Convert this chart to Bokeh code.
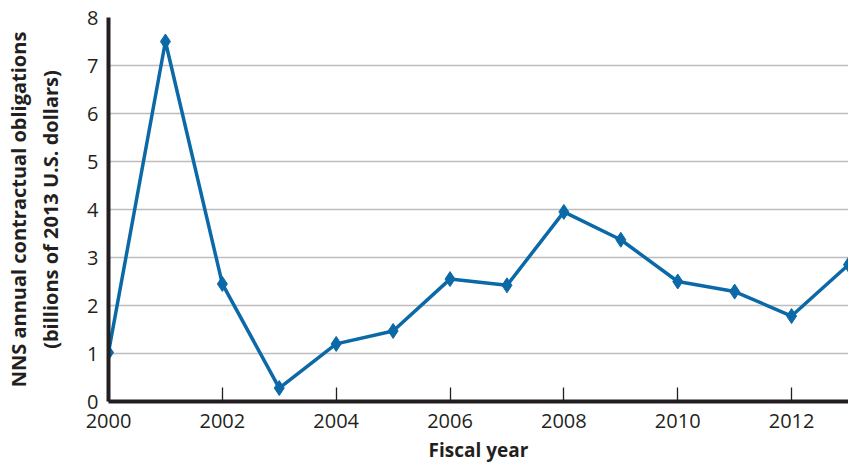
from bokeh.plotting import figure
from bokeh.models import FixedTicker, Range1d
from bokeh.embed import file_html
from bokeh.resources import INLINE

years = [2000, 2001, 2002, 2003, 2004, 2005, 2006, 2007, 2008, 2009, 2010, 2011, 2012, 2013]
obligations = [1.02, 7.5, 2.45, 0.28, 1.2, 1.47, 2.55, 2.42, 3.95, 3.37, 2.5, 2.29, 1.78, 2.85]
x_ticks = [2000, 2002, 2004, 2006, 2008, 2010, 2012]
y_ticks = [0, 1, 2, 3, 4, 5, 6, 7, 8]
grid_ticks = [1, 2, 3, 4, 5, 6, 7]

FONT = "Open Sans"
BLUE = "#0b69a8"
INK = "#231f20"

p = figure(width=848, height=465, output_backend="svg", toolbar_location=None,
           x_range=Range1d(2000, 2013), y_range=Range1d(0, 8),
           min_border_left=108, min_border_right=0, min_border_top=17, min_border_bottom=63)
p.outline_line_color = None
p.background_fill_color = "white"

p.line(years, obligations, line_color=BLUE, line_width=3.5)
p.scatter(years, obligations, marker="diamond", size=15, fill_color=BLUE, line_color=BLUE)

p.xgrid.visible = False
p.ygrid.ticker = FixedTicker(ticks=grid_ticks)
p.ygrid.grid_line_color = "#bdbdbd"
p.ygrid.grid_line_width = 1.3

xa = p.xaxis[0]
xa.ticker = FixedTicker(ticks=x_ticks)
xa.axis_line_color = INK
xa.axis_line_width = 4
xa.major_tick_in = 14
xa.major_tick_out = 0
xa.major_tick_line_color = INK
xa.major_tick_line_width = 1.3
xa.minor_tick_line_color = None
xa.major_label_text_font = FONT
xa.major_label_text_font_size = "20px"
xa.major_label_text_color = INK
xa.major_label_standoff = 12
xa.axis_label = "Fiscal year"
xa.axis_label_text_font = FONT
xa.axis_label_text_font_style = "bold"
xa.axis_label_text_font_size = "19px"
xa.axis_label_text_color = INK
xa.axis_label_standoff = 6

ya = p.yaxis[0]
ya.ticker = FixedTicker(ticks=y_ticks)
ya.axis_line_color = INK
ya.axis_line_width = 4
ya.major_tick_in = 0
ya.major_tick_out = 0
ya.minor_tick_line_color = None
ya.major_tick_line_color = None
ya.major_label_text_font = FONT
ya.major_label_text_font_size = "20px"
ya.major_label_text_color = INK
ya.major_label_standoff = 10
ya.axis_label = "NNS annual contractual obligations\n(billions of 2013 U.S. dollars)"
ya.axis_label_text_font = FONT
ya.axis_label_text_font_style = "bold"
ya.axis_label_text_font_size = "20px"
ya.axis_label_text_color = INK
ya.axis_label_standoff = 20

open("out.html", "w").write(file_html(p, INLINE))
